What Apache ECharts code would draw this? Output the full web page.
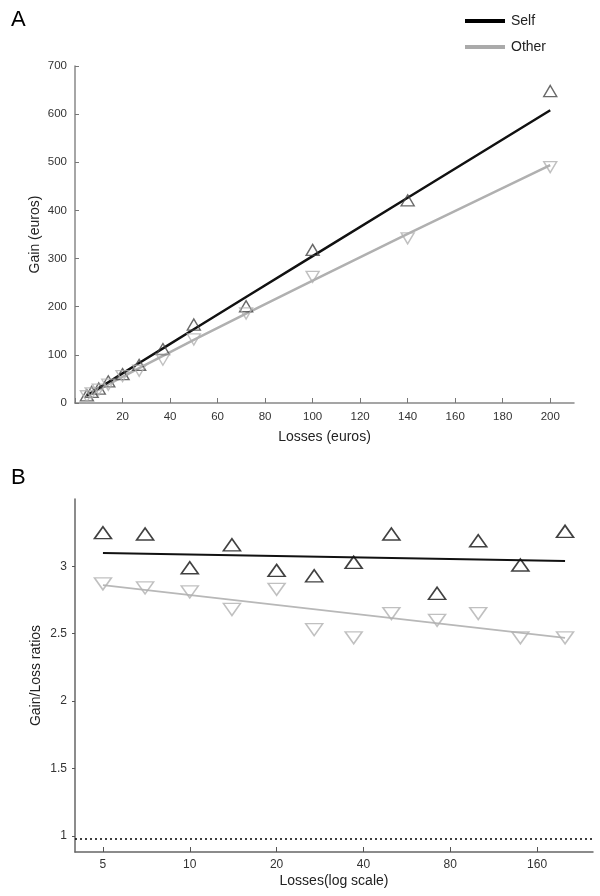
<!DOCTYPE html>
<html>
<head>
<meta charset="utf-8">
<script src="https://cdn.jsdelivr.net/npm/echarts@6/dist/echarts.min.js"></script>
<style>
html,body{margin:0;padding:0;background:#fff;}
#chart{width:600px;height:896px;}
</style>
</head>
<body>
<div id="chart"></div>
<script>
// ---- data ----
const losses = [5, 7, 10, 14, 20, 27, 37, 50, 72, 100, 140, 200];
const selfGain = [16, 23, 30, 45, 60, 79, 112, 163, 201, 318, 421, 648];
const otherGain = [14, 20, 28, 38, 56, 67, 90, 132, 186, 262, 342, 490];
const selfFitGain = [15.5, 21.7, 30.9, 43.2, 61.5, 83.0, 113.5, 153.2, 220.1, 305.1, 426.4, 608];
const otherFitGain = [14.3, 19.8, 27.9, 38.5, 54.3, 72.4, 98.0, 130.9, 185.6, 254.3, 351.1, 494];
const selfRatio = [3.25, 3.24, 2.99, 3.16, 2.97, 2.93, 3.03, 3.24, 2.80, 3.19, 3.01, 3.26];
const otherRatio = [2.87, 2.84, 2.81, 2.68, 2.83, 2.53, 2.47, 2.65, 2.60, 2.65, 2.47, 2.47];
const fitLossesB = [5, 200];
const selfFitRatio = [3.10, 3.04];
const otherFitRatio = [2.86, 2.47];
const logTicksB = [5, 10, 20, 40, 80, 160];
const ratioTicksB = [1, 1.5, 2, 2.5, 3];
const refRatio = 0.985;

const pair = (xs, ys) => xs.map((x, i) => [x, ys[i]]);

const FONT = "'Liberation Sans', Arial, sans-serif";
const NARROW = "'Liberation Sans Narrow', 'Liberation Sans', Arial, sans-serif";

const chart = echarts.init(document.getElementById('chart'), null, {renderer: 'canvas'});

const triUp = (color, size, bw) => ({
  symbol: 'triangle', symbolSize: size,
  itemStyle: {color: 'rgba(0,0,0,0)', borderColor: color, borderWidth: bw}
});
const triDown = (color, size, bw) => ({
  symbol: 'triangle', symbolRotate: 180, symbolSize: size,
  itemStyle: {color: 'rgba(0,0,0,0)', borderColor: color, borderWidth: bw}
});

const option = {
  animation: false,
  backgroundColor: '#fff',
  title: [
    {text: 'A', left: 6, top: 4, textStyle: {fontFamily: FONT, fontSize: 22, fontWeight: 'normal', color: '#000'}},
    {text: 'B', left: 6, top: 462, textStyle: {fontFamily: FONT, fontSize: 22, fontWeight: 'normal', color: '#000'}}
  ],
  legend: {
    orient: 'vertical', left: 460, top: 9, itemWidth: 40, itemHeight: 4, itemGap: 12,
    selectedMode: false,
    textStyle: {fontFamily: FONT, fontSize: 14, color: '#222', padding: [0, 0, 0, 1]},
    data: [
      {name: 'Self', icon: 'rect', itemStyle: {color: '#000', borderWidth: 0}},
      {name: 'Other', icon: 'rect', itemStyle: {color: '#aaa', borderWidth: 0}}
    ]
  },
  grid: [
    {left: 75, top: 66, width: 499, height: 337},
    {left: 75, top: 499, width: 518, height: 353}
  ],
  xAxis: [
    {
      gridIndex: 0, type: 'value', min: 0, max: 210, interval: 20,
      name: 'Losses (euros)', nameLocation: 'middle', nameGap: 27,
      nameTextStyle: {fontFamily: FONT, fontSize: 14, color: '#222'},
      axisLine: {lineStyle: {color: '#888', width: 1.5}},
      axisTick: {inside: true, length: 5, lineStyle: {color: '#777'}},
      axisLabel: {fontFamily: NARROW, fontSize: 11.5, color: '#333', margin: 8,
        showMaxLabel: false,
        formatter: v => (v === 0 || v > 200 ? '' : String(v))},
      splitLine: {show: false}
    },
    {
      gridIndex: 1, type: 'log', logBase: 2, min: 4, max: 250,
      name: 'Losses(log scale)', nameLocation: 'middle', nameGap: 22,
      nameTextStyle: {fontFamily: FONT, fontSize: 14, color: '#222'},
      axisLine: {lineStyle: {color: '#666', width: 1.5}},
      axisTick: {inside: true, length: 5, customValues: logTicksB, lineStyle: {color: '#555'}},
      axisLabel: {fontFamily: FONT, fontSize: 12, color: '#333', margin: 7,
        customValues: logTicksB, formatter: v => String(Math.round(v))},
      minorTick: {show: false},
      splitLine: {show: false}
    }
  ],
  yAxis: [
    {
      gridIndex: 0, type: 'value', min: 0, max: 700, interval: 100,
      name: 'Gain (euros)', nameLocation: 'middle', nameGap: 33, nameRotate: 90,
      nameMoveOverlap: false,
      nameTextStyle: {fontFamily: FONT, fontSize: 14, color: '#222'},
      axisLine: {show: true, lineStyle: {color: '#888', width: 1.5}},
      axisTick: {show: true, inside: true, length: 4, lineStyle: {color: '#777'}},
      axisLabel: {fontFamily: NARROW, fontSize: 11.5, color: '#333', margin: 8},
      splitLine: {show: false}
    },
    {
      gridIndex: 1, type: 'value', min: 0.88, max: 3.5,
      name: 'Gain/Loss ratios', nameLocation: 'middle', nameGap: 32, nameRotate: 90,
      nameMoveOverlap: false,
      nameTextStyle: {fontFamily: FONT, fontSize: 14, color: '#222'},
      axisLine: {show: true, lineStyle: {color: '#666', width: 1.5}},
      axisTick: {show: true, length: 3, customValues: ratioTicksB, lineStyle: {color: '#555'}},
      axisLabel: {fontFamily: FONT, fontSize: 12, color: '#333', margin: 8,
        customValues: ratioTicksB},
      splitLine: {show: false}
    }
  ],
  series: [
    // Panel A
    {name: 'Self', type: 'line', xAxisIndex: 0, yAxisIndex: 0, data: pair(losses, selfFitGain),
      showSymbol: false, lineStyle: {color: '#111', width: 2.5}, itemStyle: {color: '#111'}, z: 3},
    {name: 'Other', type: 'line', xAxisIndex: 0, yAxisIndex: 0, data: pair(losses, otherFitGain),
      showSymbol: false, lineStyle: {color: '#b0b0b0', width: 2.5}, itemStyle: {color: '#b0b0b0'}, z: 2},
    Object.assign({name: 'Self', type: 'scatter', xAxisIndex: 0, yAxisIndex: 0, data: pair(losses, selfGain), z: 4},
      triUp('#444', [13, 11], 1.4)),
    Object.assign({name: 'Other', type: 'scatter', xAxisIndex: 0, yAxisIndex: 0, data: pair(losses, otherGain), z: 4},
      triDown('#b0b0b0', [13, 11], 1.4)),
    // Panel B
    {name: 'Self', type: 'line', xAxisIndex: 1, yAxisIndex: 1, data: pair(fitLossesB, selfFitRatio),
      showSymbol: false, lineStyle: {color: '#111', width: 2}, itemStyle: {color: '#111'}, z: 3,
      markLine: {silent: true, symbol: 'none', label: {show: false},
        lineStyle: {color: '#000', type: [2, 3], width: 1.5},
        data: [{yAxis: refRatio}]}},
    {name: 'Other', type: 'line', xAxisIndex: 1, yAxisIndex: 1, data: pair(fitLossesB, otherFitRatio),
      showSymbol: false, lineStyle: {color: '#b8b8b8', width: 1.8}, itemStyle: {color: '#b8b8b8'}, z: 2},
    Object.assign({name: 'Self', type: 'scatter', xAxisIndex: 1, yAxisIndex: 1, data: pair(losses, selfRatio), z: 4},
      triUp('#111', [17, 12], 1.6)),
    Object.assign({name: 'Other', type: 'scatter', xAxisIndex: 1, yAxisIndex: 1, data: pair(losses, otherRatio), z: 4},
      triDown('#b0b0b0', [17, 12], 1.5))
  ]
};
chart.setOption(option);
</script>
</body>
</html>
